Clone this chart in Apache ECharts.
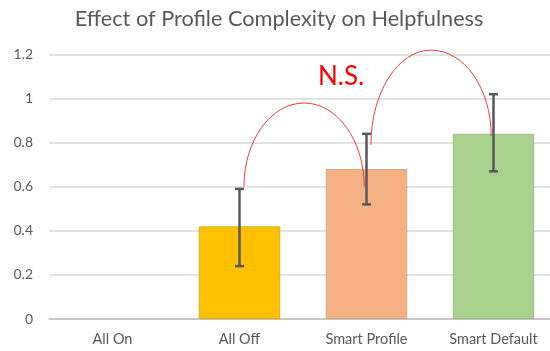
<!DOCTYPE html>
<html>
<head>
<meta charset="utf-8">
<script src="https://cdn.jsdelivr.net/npm/echarts@6/dist/echarts.min.js"></script>
<style>
  html, body { margin: 0; padding: 0; background: #fff; overflow: hidden; }
  #chart { width: 558px; height: 351px; }
</style>
</head>
<body>
<div id="chart"></div>
<script>
// Mean helpfulness per profile condition, with error ranges
const categories = ['All On', 'All Off', 'Smart Profile', 'Smart Default'];
const means = [0, 0.42, 0.68, 0.84];
const errLow = [null, 0.24, 0.52, 0.67];
const errHigh = [null, 0.59, 0.84, 1.02];
const barColors = ['#FFC000', '#FFC000', '#F4B183', '#A9D18E'];
const barBorders = ['#D9A300', '#D9A300', '#CFA07F', '#93B47C'];
const yTicks = [0, 0.2, 0.4, 0.6, 0.8, 1, 1.2];

// Comparison arcs: [fromIndex, fromValue, toIndex, toValue, peakValue]
const arcFrom = [1, 2];
const arcFromValue = [0.6, 0.79];
const arcTo = [2, 3];
const arcToValue = [0.6, 0.83];
const arcPeak = [0.98, 1.22];
const nsLabel = 'N.S.';

const FONT = 'Lato, "Open Sans", sans-serif';
const GREY = '#595959';

const chart = echarts.init(document.getElementById('chart'), null, { renderer: 'canvas' });

const errorData = categories
  .map((c, i) => [i, errLow[i], errHigh[i]])
  .filter(d => d[1] != null);

const arcData = arcFrom.map((f, i) => [f, arcFromValue[i], arcTo[i], arcToValue[i], arcPeak[i]]);

chart.setOption({
  animation: false,
  title: {
    text: 'Effect of Profile Complexity on Helpfulness',
    left: 'center',
    top: 3,
    textStyle: { fontFamily: FONT, fontSize: 21.7, fontWeight: 'normal', color: GREY }
  },
  grid: { left: 49, right: 1, top: 54.5, bottom: 32 },
  xAxis: {
    type: 'category',
    data: categories,
    axisTick: { show: false },
    axisLine: { lineStyle: { color: '#BFBFBF', width: 1.5 } },
    axisLabel: { fontFamily: FONT, fontSize: 14.5, color: GREY, margin: 13 }
  },
  yAxis: {
    type: 'value',
    min: 0,
    max: yTicks[yTicks.length - 1],
    interval: 0.2,
    axisLine: { show: false },
    axisTick: { show: false },
    splitLine: { lineStyle: { color: '#D9D9D9', width: 1.5 } },
    axisLabel: { fontFamily: FONT, fontSize: 14, color: GREY, margin: 16 }
  },
  series: [
    {
      type: 'bar',
      barCategoryGap: '36%',
      data: means.map((v, i) => ({
        value: v,
        itemStyle: {
          color: barColors[i],
          borderColor: barBorders[i],
          borderWidth: v > 0 ? 0.8 : 0
        }
      })),
      z: 2
    },
    {
      type: 'custom',
      z: 5,
      data: errorData,
      renderItem: function (params, api) {
        const x = api.value(0);
        const lo = api.coord([x, api.value(1)]);
        const hi = api.coord([x, api.value(2)]);
        const cap = 4.5;
        const style = { stroke: '#595959', lineWidth: 2.5 };
        return {
          type: 'group',
          children: [
            { type: 'line', shape: { x1: hi[0], y1: hi[1], x2: lo[0], y2: lo[1] }, style },
            { type: 'line', shape: { x1: hi[0] - cap, y1: hi[1], x2: hi[0] + cap, y2: hi[1] }, style },
            { type: 'line', shape: { x1: lo[0] - cap, y1: lo[1], x2: lo[0] + cap, y2: lo[1] }, style }
          ]
        };
      }
    },
    {
      type: 'custom',
      z: 6,
      clip: false,
      data: arcData,
      renderItem: function (params, api) {
        const band = api.size([1, 0])[0];
        const p0 = api.coord([api.value(0), api.value(1)]);
        const p1 = api.coord([api.value(2), api.value(3)]);
        const x0 = p0[0] + band * 0.035;
        const x1 = p1[0] - band * 0.018;
        const y0 = p0[1];
        const y1 = p1[1];
        const top = api.coord([api.value(0), api.value(4)])[1];
        const xm = (x0 + x1) / 2;
        const k = 0.5523;
        const w0 = xm - x0, w1 = x1 - xm;
        const h0 = y0 - top, h1 = y1 - top;
        const d = 'M' + x0 + ' ' + y0 +
          ' C' + x0 + ' ' + (y0 - k * h0) + ' ' + (xm - k * w0) + ' ' + top + ' ' + xm + ' ' + top +
          ' C' + (xm + k * w1) + ' ' + top + ' ' + x1 + ' ' + (y1 - k * h1) + ' ' + x1 + ' ' + y1;
        return {
          type: 'path',
          shape: { pathData: d },
          style: { fill: null, stroke: '#F03C3C', lineWidth: 1 }
        };
      }
    }
  ],
  graphic: []
});

// "N.S." marker placed in data space, left of the Smart Profile arc
function placeLabel() {
  const a = chart.convertToPixel({ gridIndex: 0 }, [1, 1.1]);
  const b = chart.convertToPixel({ gridIndex: 0 }, [2, 1.1]);
  const band = b[0] - a[0];
  chart.setOption({
    graphic: [{
      type: 'text',
      x: b[0] - 0.2 * band,
      y: b[1],
      style: {
        text: nsLabel,
        fill: '#FF0000',
        font: '26px ' + FONT,
        textAlign: 'center',
        textVerticalAlign: 'middle'
      }
    }]
  });
}
placeLabel();
</script>
</body>
</html>
